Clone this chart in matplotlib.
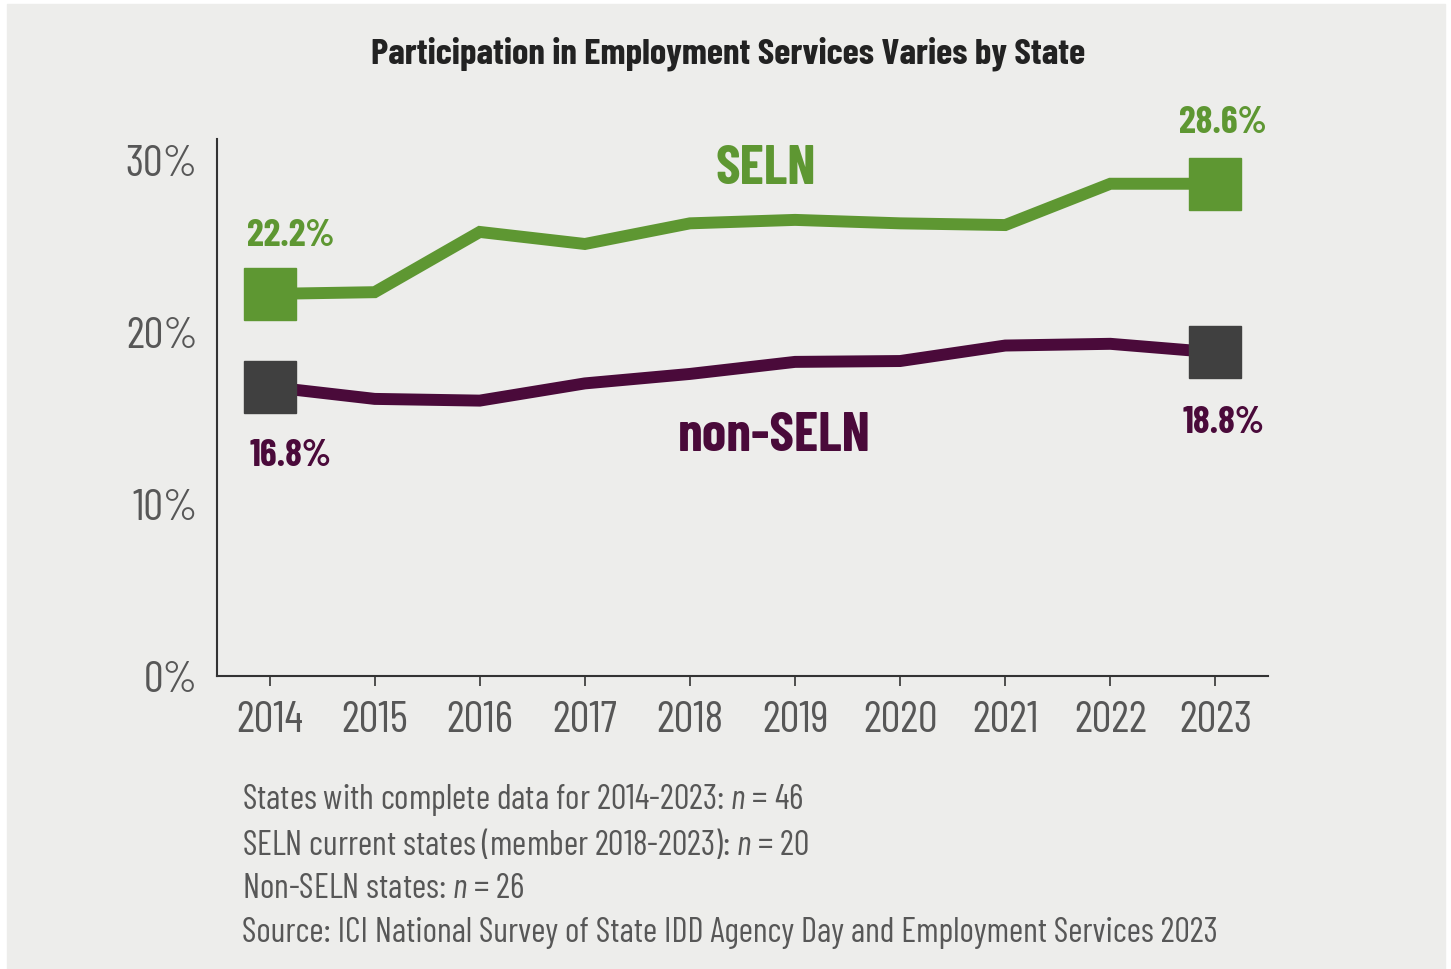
import matplotlib
matplotlib.use('Agg')
import matplotlib.pyplot as plt
from matplotlib.patches import Rectangle

FONT = 'Barlow Condensed'
plt.rcParams['font.family'] = [FONT, 'DejaVu Sans']
plt.rcParams['mathtext.fontset'] = 'custom'
plt.rcParams['mathtext.it'] = FONT + ':italic'
plt.rcParams['mathtext.rm'] = FONT

# data
years = [2014, 2015, 2016, 2017, 2018, 2019, 2020, 2021, 2022, 2023]
seln = [22.2, 22.3, 25.8, 25.1, 26.3, 26.5, 26.3, 26.2, 28.6, 28.6]
non_seln = [16.8, 16.1, 16.0, 17.0, 17.55, 18.25, 18.3, 19.2, 19.3, 18.8]
yticks = [0, 10, 20, 30]
notes = [
    'States with complete data for 2014-2023: $n$ = 46',
    'SELN current states (member 2018-2023): $n$ = 20',
    'Non-SELN states: $n$ = 26',
    'Source: ICI National Survey of State IDD Agency Day and Employment Services 2023',
]

green = '#5e9732'
purple = '#4a0a3a'
grey_marker = '#404040'
bg = '#ededeb'
txt = '#575757'

fig = plt.figure(figsize=(14.51, 9.70), dpi=100)
fig.patch.set_facecolor('white')
fig.patches.append(Rectangle((7 / 1451, 0), 1438 / 1451, 965 / 970,
                             transform=fig.transFigure, color=bg, zorder=-10))
renderer = fig.canvas.get_renderer()


def fit_size(s, target_px, **kw):
    # font size that makes the string about target_px wide
    t = fig.text(0, 0, s, fontsize=20, **kw)
    w = t.get_window_extent(renderer).width
    t.remove()
    return 20 * target_px / w


tick_fs = fit_size('2014', 67)
val_fs = fit_size('22.2%', 88, fontweight='bold')
name_fs = fit_size('non-SELN', 193, fontweight='bold')
title_fs = fit_size('Participation in Employment Services Varies by State', 715, fontweight='bold')
note_fs = fit_size(notes[3], 976)

ax = fig.add_axes([217 / 1451, 1 - 677 / 970, 1051 / 1451, 537 / 970])
ax.set_facecolor(bg)

ax.plot(years, seln, color=green, lw=8.6, solid_joinstyle='miter', zorder=3)
ax.plot(years, non_seln, color=purple, lw=8.6, solid_joinstyle='miter', zorder=3)
# end markers
ax.plot([years[0], years[-1]], [seln[0], seln[-1]], 's', color=green, ms=38, zorder=4)
ax.plot([years[0], years[-1]], [non_seln[0], non_seln[-1]], 's', color=grey_marker, ms=38, zorder=4)

ax.set_xlim(2013.5, 2023.5)
ax.set_ylim(0, 31.2)
ax.set_xticks(years)
ax.set_xticklabels([str(y) for y in years])
ax.set_yticks(yticks)
ax.set_yticklabels([f'{t}%' for t in yticks])
ax.tick_params(axis='x', length=7, width=1.2, color='#333333', labelsize=tick_fs, labelcolor=txt, pad=10)
ax.tick_params(axis='y', length=0, labelsize=tick_fs, labelcolor=txt, pad=14)
for s in ['top', 'right']:
    ax.spines[s].set_visible(False)
for s in ['left', 'bottom']:
    ax.spines[s].set_color('#333333')
    ax.spines[s].set_linewidth(1.5)

# value labels
kw = dict(fontsize=val_fs, fontweight='bold', ha='center', va='center')
ax.text(2014.2, 25.6, f'{seln[0]}%', color=green, **kw)
ax.text(2023.07, 32.2, f'{seln[-1]}%', color=green, clip_on=False, **kw)
ax.text(2014.2, 12.85, f'{non_seln[0]}%', color=purple, **kw)
ax.text(2023.08, 14.77, f'{non_seln[-1]}%', color=purple, **kw)

# series names
ax.text(2018.72, 29.5, 'SELN', color=green, fontsize=name_fs, fontweight='bold', ha='center', va='center')
ax.text(2018.8, 14.0, 'non-SELN', color=purple, fontsize=name_fs, fontweight='bold', ha='center', va='center')

fig.text(0.5017, 0.945, 'Participation in Employment Services Varies by State',
         ha='center', va='center', fontsize=title_fs, fontweight='bold', color='#222222')

for i, line in enumerate(notes):
    fig.text(242 / 1451, 1 - (800 + 44.3 * i) / 970, line, ha='left', va='center',
             fontsize=note_fs, color=txt)

fig.savefig('out.png', dpi=100, facecolor=fig.get_facecolor())
